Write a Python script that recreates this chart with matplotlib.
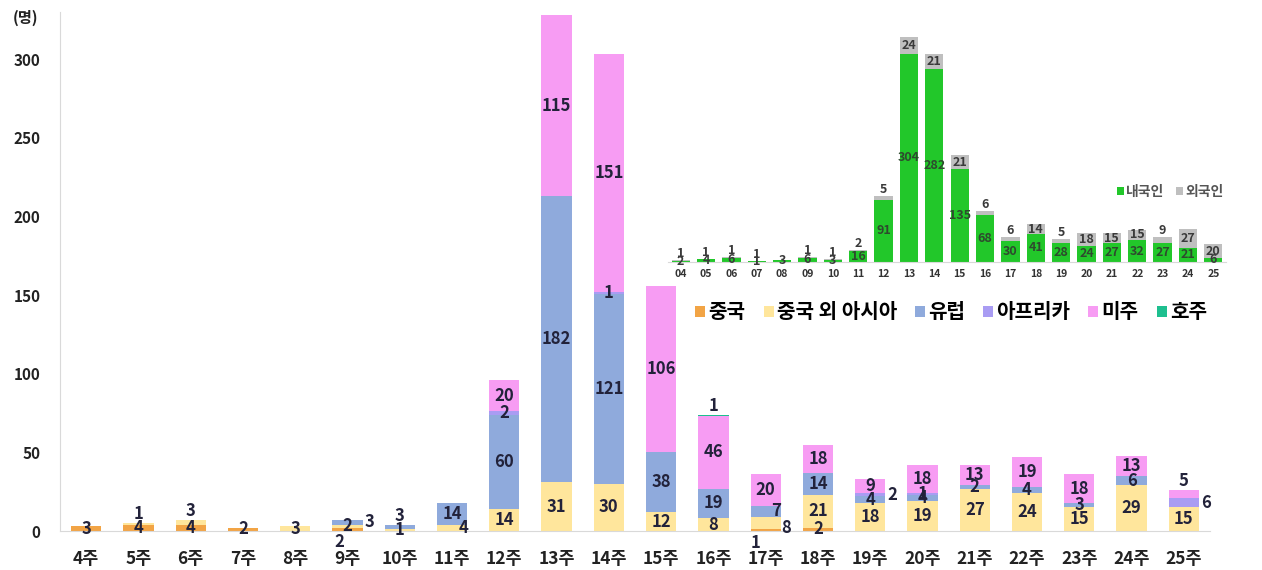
import numpy as np
import matplotlib
matplotlib.use("Agg")
import matplotlib.pyplot as plt

plt.rcParams['font.family'] = ['Noto Sans CJK KR', 'DejaVu Sans']
plt.rcParams['font.weight'] = 'bold'

# weeks 4 ~ 25
weeks = [f"{w}주" for w in range(4, 26)]
region_names = ["중국", "중국 외 아시아", "유럽", "아프리카", "미주", "호주"]
region_colors = ["#F2A445", "#FFE69C", "#8FAADC", "#A99CF3", "#F79CF3", "#1EBF8F"]

china    = [3, 4, 4, 2, 0, 2, 0, 0, 0, 0, 0, 0, 0, 1, 2, 0, 0, 0, 0, 0, 0, 0]
asia     = [0, 1, 3, 0, 3, 2, 1, 4, 14, 31, 30, 12, 8, 8, 21, 18, 19, 27, 24, 15, 29, 15]
europe   = [0, 0, 0, 0, 0, 3, 3, 14, 60, 182, 121, 38, 19, 7, 14, 4, 4, 2, 4, 3, 6, 0]
africa   = [0, 0, 0, 0, 0, 0, 0, 0, 2, 0, 1, 0, 0, 0, 0, 2, 1, 0, 0, 0, 0, 6]
america  = [0, 0, 0, 0, 0, 0, 0, 0, 20, 115, 151, 106, 46, 20, 18, 9, 18, 13, 19, 18, 13, 5]
oceania  = [0, 0, 0, 0, 0, 0, 0, 0, 0, 0, 0, 0, 1, 0, 0, 0, 0, 0, 0, 0, 0, 0]

# inset: 내국인 / 외국인
inset_labels = [f"{w:02d}" for w in range(4, 26)]
korean   = [2, 4, 6, 1, 3, 6, 3, 16, 91, 304, 282, 135, 68, 30, 41, 28, 24, 27, 32, 27, 21, 6]
foreign  = [1, 1, 1, 1, 0, 1, 1, 2, 5, 24, 21, 21, 6, 6, 14, 5, 18, 15, 15, 9, 27, 20]

LABEL_COLOR = "#22223A"

# hand-moved data labels, like in the original sheet: (week idx, series idx) -> (dx, dy, ha)
label_nudge = {
    (5, 0): (-0.15, -8, 'center'),
    (5, 2): (0.33, 0, 'left'),
    (7, 1): (0.12, 0, 'left'),
    (13, 0): (-0.2, -8, 'center'),
    (13, 1): (0.3, -3, 'left'),
    (13, 2): (0.2, 0, 'center'),
    (15, 3): (0.33, 0, 'left'),
    (21, 3): (0.33, 0, 'left'),
}

fig = plt.figure(figsize=(12.62, 5.70), dpi=100)
ax = fig.add_axes([60/1262, 39/570, 1150/1262, 519/570])

series = [china, asia, europe, africa, america, oceania]
x = np.arange(len(weeks))
bottom = np.zeros(len(weeks))
totals = np.sum(series, axis=0)
for j, (vals, name, col) in enumerate(zip(series, region_names, region_colors)):
    vals = np.array(vals)
    ax.bar(x, vals, 0.58, bottom=bottom, color=col, label=name)
    for i, v in enumerate(vals):
        if v == 0:
            continue
        top = bottom[i] + v
        nseg = np.count_nonzero([s[i] for s in series])
        if (i, j) in label_nudge:
            dx, dy, ha = label_nudge[(i, j)]
            ax.text(x[i] + dx, bottom[i] + v / 2 + dy, str(v), ha=ha, va='center',
                    fontsize=12, color=LABEL_COLOR)
        elif v < 8 and top == totals[i] and nseg > 1:
            ax.text(x[i], top, str(v), ha='center', va='bottom',
                    fontsize=12, color=LABEL_COLOR)
        else:
            ax.text(x[i], bottom[i] + v / 2, str(v), ha='center', va='center',
                    fontsize=12, color=LABEL_COLOR)
    bottom += vals

ax.set_xlim(-0.5, 21.5)
ax.set_ylim(0, 330)
ax.set_yticks(range(0, 301, 50))
ax.set_xticks(x)
ax.set_xticklabels(weeks, fontsize=12.5)
ax.tick_params(axis='both', length=0, colors='#222222')
ax.tick_params(axis='y', labelsize=11, pad=14)
ax.tick_params(axis='x', pad=14)
for s in ['top', 'right']:
    ax.spines[s].set_visible(False)
for s in ['left', 'bottom']:
    ax.spines[s].set_color('#D9D9D9')
fig.text(25/1262, 1 - 18/570, "(명)", ha='center', va='center', fontsize=11, color='#222222')

fig.legend(loc='center', bbox_to_anchor=(951/1262, 1 - 312/570), ncol=6, frameon=False,
           fontsize=14.5, handlelength=0.5, handleheight=0.5, handletextpad=0.15,
           columnspacing=0.9)

# inset chart
ins = fig.add_axes([668/1262, 1 - 262/570, 558/1262, 233/570])
xi = np.arange(len(inset_labels))
ins.bar(xi, korean, 0.72, color="#22C72A", label="내국인")
ins.bar(xi, foreign, 0.72, bottom=korean, color="#BFBFBF", label="외국인")
for i in xi:
    k, f = korean[i], foreign[i]
    kcol = '#2E4A2E' if k >= 10 else '#3A3A3A'
    ins.text(xi[i], k / 2, str(k), ha='center', va='center', fontsize=9, color=kcol)
    if f == 0:
        continue
    if f >= 10:
        ins.text(xi[i], k + f / 2, str(f), ha='center', va='center', fontsize=9, color='#3A3A3A')
    else:
        ins.text(xi[i], k + f, str(f), ha='center', va='bottom', fontsize=9, color='#3A3A3A')
ins.set_xlim(-0.5, 21.5)
ins.set_ylim(0, 340)
ins.set_xticks(xi)
ins.set_xticklabels(inset_labels, fontsize=7.5)
ins.set_yticks([])
ins.tick_params(axis='x', length=0, pad=5, colors='#333333')
ins.patch.set_alpha(0)
for s in ['top', 'right', 'left']:
    ins.spines[s].set_visible(False)
ins.spines['bottom'].set_color('#D9D9D9')
ins.legend(loc='center', bbox_to_anchor=(0.9, 0.30), ncol=2, frameon=False,
           fontsize=10, handlelength=0.5, handleheight=0.5, handletextpad=0.2,
           columnspacing=0.8, labelcolor='#555555')

fig.savefig("out.png", dpi=100)
